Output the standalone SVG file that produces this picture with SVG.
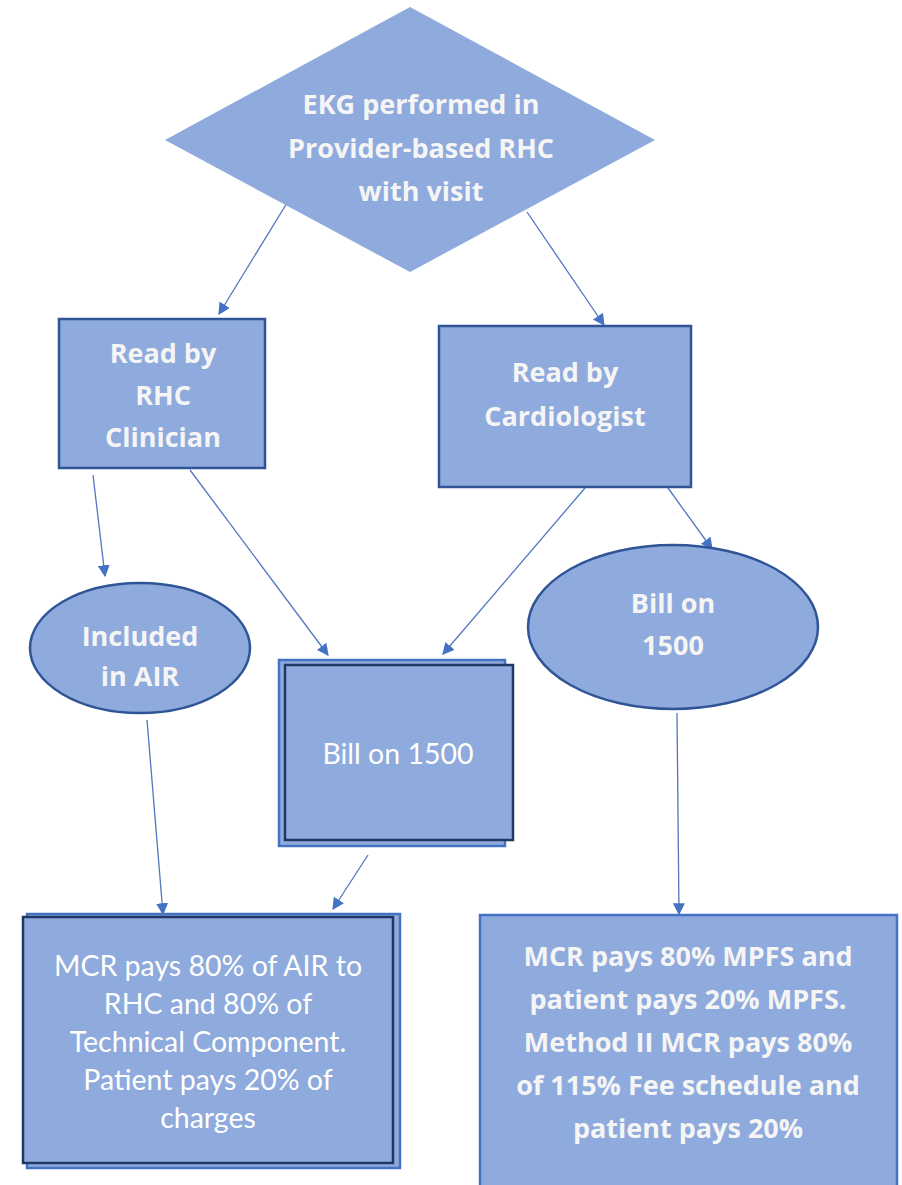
<svg xmlns="http://www.w3.org/2000/svg" width="902" height="1185" viewBox="0 0 902 1185">
<defs>
<marker id="ah" viewBox="0 0 10 10" refX="9" refY="5" markerWidth="12" markerHeight="12" markerUnits="userSpaceOnUse" orient="auto"><path d="M0,0 L10,5 L0,10 z" fill="#4472C4"/></marker>
<style>
.shape{fill:#8FAADC;stroke:#2F5597;stroke-width:2.5}
.back{fill:#8FAADC;stroke:#4472C4;stroke-width:2.5}
.front{fill:#8FAADC;stroke:#1F3864;stroke-width:2.5}
.b{font-family:"Open Sans",Lato,sans-serif;font-weight:bold;fill:#F5F5F5;text-anchor:middle;font-size:27px}
.r{font-family:Lato,"Open Sans",sans-serif;fill:#FFFFFF;text-anchor:middle;font-size:28.5px}
.c line{stroke:#5177BD;stroke-width:1.3;marker-end:url(#ah)}
</style>
</defs>
<rect width="902" height="1185" fill="#FFFFFF"/>
<g class="c" id="connectors">
<line x1="287" y1="203" x2="219" y2="314"/>
<line x1="527" y1="212" x2="604" y2="325"/>
<line x1="93" y1="475" x2="105" y2="576"/>
<line x1="190" y1="470" x2="328" y2="655"/>
<line x1="585" y1="488" x2="443" y2="654"/>
<line x1="668" y1="488" x2="712" y2="549"/>
<line x1="147" y1="720" x2="163" y2="914"/>
<line x1="368" y1="855" x2="333" y2="909"/>
<line x1="677" y1="713" x2="679" y2="914"/>
</g>
<g id="n1">
<polygon points="410,7 655,140 410,272 165,140" fill="#8FAADC"/>
<text class="b" x="421" y="114">EKG performed in</text>
<text class="b" x="421" y="158">Provider-based RHC</text>
<text class="b" x="421" y="201">with visit</text>
</g>
<g id="n2">
<rect class="shape" x="59" y="319" width="206" height="149"/>
<text class="b" x="163" y="363">Read by</text>
<text class="b" x="163" y="405">RHC</text>
<text class="b" x="163" y="447">Clinician</text>
</g>
<g id="n3">
<rect class="shape" x="439" y="326" width="252" height="161"/>
<text class="b" x="565" y="382">Read by</text>
<text class="b" x="565" y="426">Cardiologist</text>
</g>
<g id="n4">
<ellipse class="shape" cx="140" cy="648" rx="110" ry="65"/>
<text class="b" x="140" y="646">Included</text>
<text class="b" x="140" y="686">in AIR</text>
</g>
<g id="n5">
<rect class="back" x="279" y="660" width="226" height="186"/>
<rect class="front" x="285" y="665" width="228" height="175"/>
<text class="r" x="398" y="764">Bill on 1500</text>
</g>
<g id="n6">
<ellipse class="shape" cx="673" cy="627" rx="145" ry="82"/>
<text class="b" x="673" y="613">Bill on</text>
<text class="b" x="673" y="655">1500</text>
</g>
<g id="n7">
<rect class="back" x="27" y="914" width="373" height="254"/>
<rect class="front" x="23" y="917" width="370" height="246"/>
<text class="r" x="208" y="976">MCR pays 80% of AIR to</text>
<text class="r" x="208" y="1014">RHC and 80% of</text>
<text class="r" x="208" y="1052">Technical Component.</text>
<text class="r" x="208" y="1090">Patient pays 20% of</text>
<text class="r" x="208" y="1128">charges</text>
</g>
<g id="n8">
<rect class="back" x="480" y="915" width="417" height="290"/>
<text class="b" x="688" y="966">MCR pays 80% MPFS and</text>
<text class="b" x="688" y="1009">patient pays 20% MPFS.</text>
<text class="b" x="688" y="1052">Method II MCR pays 80%</text>
<text class="b" x="688" y="1095">of 115% Fee schedule and</text>
<text class="b" x="688" y="1138">patient pays 20%</text>
</g>
</svg>
